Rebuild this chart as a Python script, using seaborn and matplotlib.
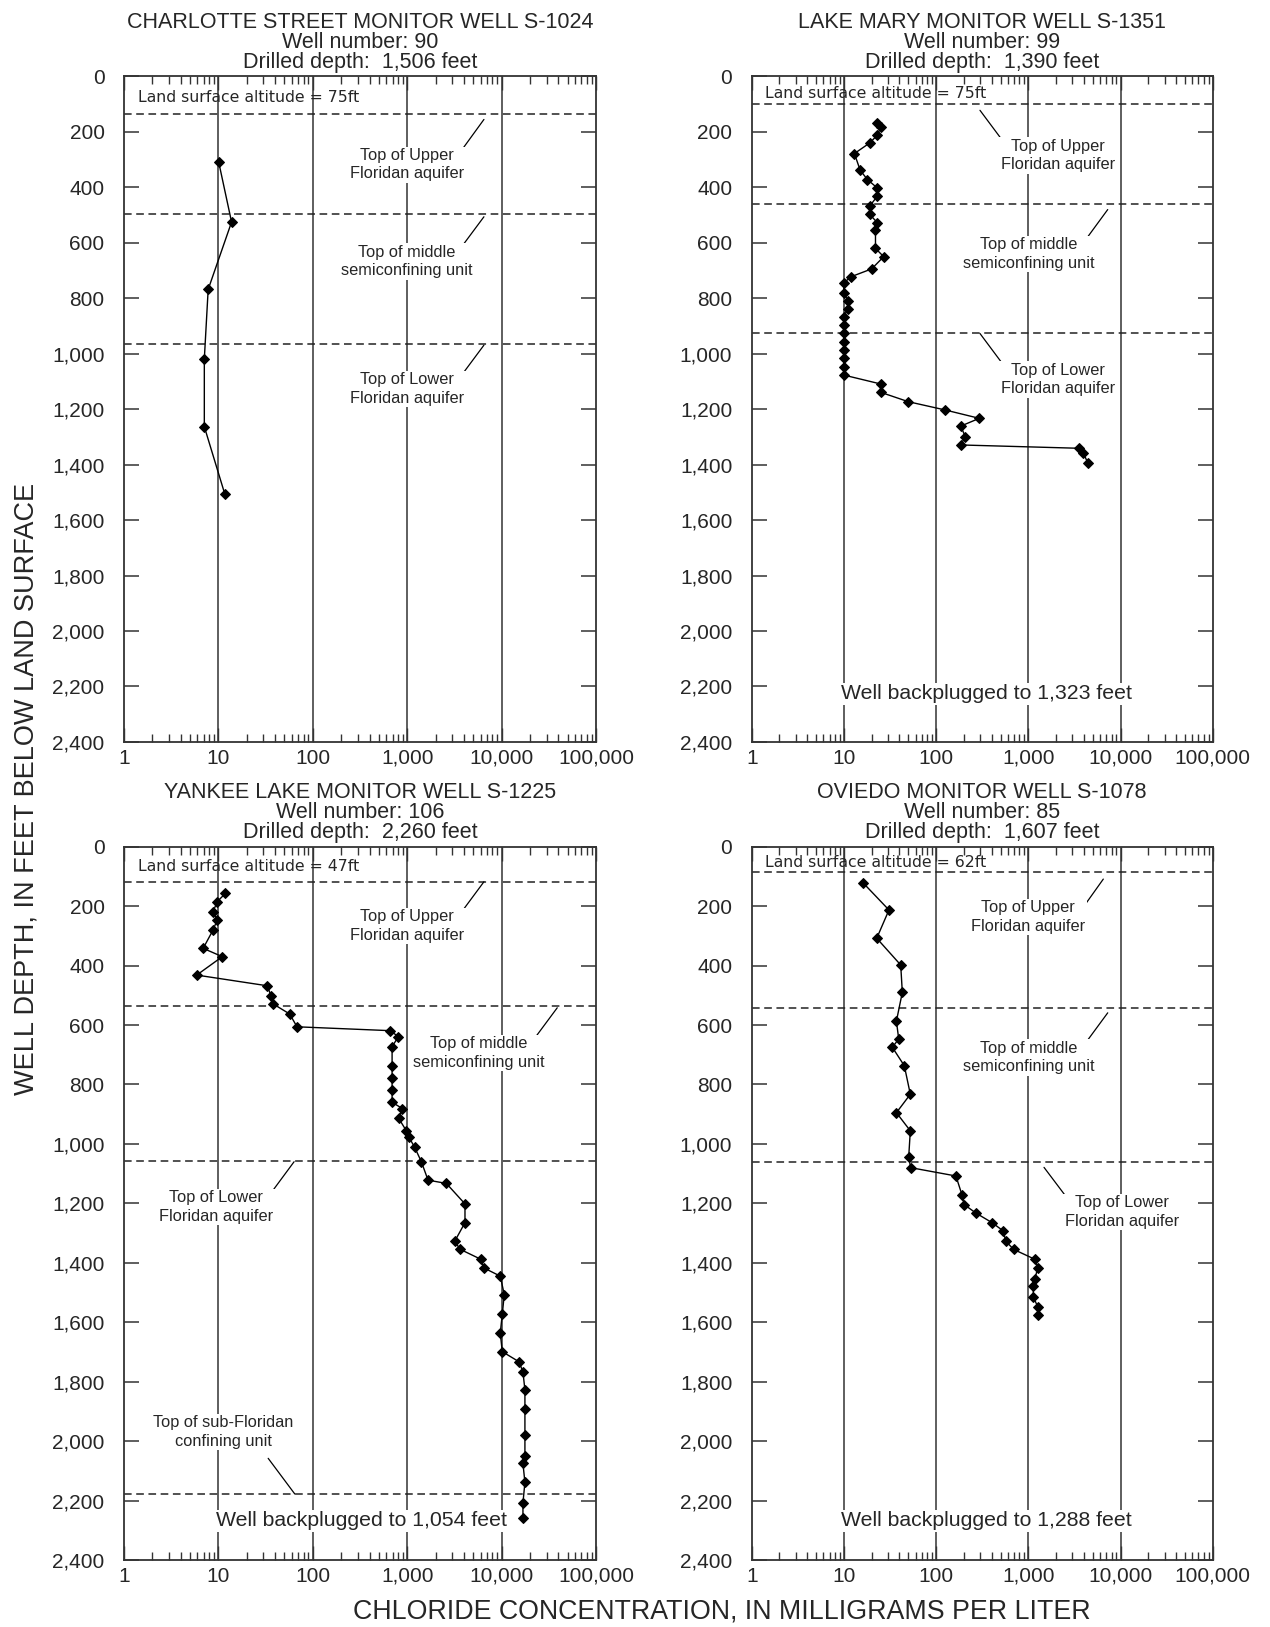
import numpy as np
import pandas as pd
import seaborn as sns
import matplotlib.pyplot as plt
from matplotlib.ticker import FixedLocator, NullFormatter

## Values (depth in feet, chloride in mg/L)
charlotte_depth = [310, 525, 768, 1019, 1263, 1506]
charlotte_cl = [10.1, 13.8, 7.8, 7.1, 7.1, 11.7]

lakemary_depth = [167, 184, 212, 240, 278, 338, 372, 402, 432, 468,
                  497, 527, 554, 620, 650, 694, 722, 744, 780, 809,
                  837, 867, 897, 927, 957, 987, 1017, 1047, 1077, 1109,
                  1139, 1173, 1203, 1233, 1261, 1299, 1329, 1341, 1357, 1393]
lakemary_cl = [23, 25, 23, 19, 13, 15, 18, 23, 23, 19,
               19, 23, 22, 22, 27, 20, 12, 10, 10, 11,
               11, 10, 10, 10, 10, 10, 10, 10, 10, 25,
               25, 50, 126, 294, 185, 207, 185, 3575, 3950, 4400]

yankee_depth = [157, 185, 219, 247, 280, 342, 370, 432, 468, 501,
                529, 563, 606, 619, 639, 673, 737, 777, 819, 860,
                881, 914, 956, 976, 1012, 1060, 1122, 1133, 1202, 1265,
                1328, 1355, 1389, 1417, 1445, 1507, 1574, 1636, 1699, 1733,
                1767, 1828, 1892, 1980, 2049, 2075, 2139, 2208, 2260]
yankee_cl = [11.9, 9.7, 8.8, 9.7, 8.8, 6.9, 11.0, 5.9, 33, 36,
             38, 57, 68, 658, 807, 692, 692, 692, 692, 692,
             889, 813, 980, 1038, 1202, 1413, 1663, 2600, 4094, 4094,
             3184, 3654, 6095, 6454, 9683, 10670, 10160, 9683, 10160, 15270,
             16830, 17660, 17660, 17660, 17660, 16830, 17660, 16830, 16830]

oviedo_depth = [123, 213, 308, 398, 490, 587, 647, 675, 737, 833,
                895, 956, 1045, 1080, 1108, 1172, 1204, 1233, 1265, 1293,
                1327, 1355, 1389, 1417, 1453, 1478, 1514, 1548, 1576]
oviedo_cl = [16.3, 30.8, 22.7, 41.3, 43, 37.1, 39.3, 33.5, 45.2, 52.5,
             37.1, 52.5, 50.4, 53, 164, 191, 201, 271, 404, 536,
             568, 693, 1191, 1263, 1183, 1133, 1133, 1263, 1263]

# tops of hydrogeologic units (dashed lines), feet
charlotte_tops = [137, 495, 964]
lakemary_tops = [101, 460, 924]
yankee_tops = [118, 535, 1058, 2178]
oviedo_tops = [84, 544, 1062]

titles = ["CHARLOTTE STREET MONITOR WELL S-1024\nWell number: 90\nDrilled depth:  1,506 feet",
          "LAKE MARY MONITOR WELL S-1351\nWell number: 99\nDrilled depth:  1,390 feet",
          "YANKEE LAKE MONITOR WELL S-1225\nWell number: 106\nDrilled depth:  2,260 feet",
          "OVIEDO MONITOR WELL S-1078\nWell number: 85\nDrilled depth:  1,607 feet"]
altitudes = ["75ft", "75ft", "47ft", "62ft"]

x_ticks = [1, 10, 100, 1000, 10000, 100000]
x_labels = ["1", "10", "100", "1,000", "10,000", "100,000"]
y_ticks = [0, 200, 400, 600, 800, 1000, 1200, 1400, 1600, 1800, 2000, 2200, 2400]
y_labels = ["0", "200", "400", "600", "800", "1,000", "1,200", "1,400",
            "1,600", "1,800", "2,000", "2,200", "2,400"]
minor_ticks = [m * d for d in [1, 10, 100, 1000, 10000] for m in [2, 3, 4, 5, 6, 7, 8, 9]]

sns.set_style("ticks")
plt.rcParams['font.family'] = ['Liberation Sans', 'DejaVu Sans']

fig = plt.figure(figsize=(12.7, 16.27), dpi=100)
positions = [[0.0976, 0.5440, 0.3717, 0.4090],
             [0.5919, 0.5440, 0.3630, 0.4090],
             [0.0976, 0.0412, 0.3717, 0.4384],
             [0.5919, 0.0412, 0.3630, 0.4384]]

wells = [(charlotte_depth, charlotte_cl, charlotte_tops),
         (lakemary_depth, lakemary_cl, lakemary_tops),
         (yankee_depth, yankee_cl, yankee_tops),
         (oviedo_depth, oviedo_cl, oviedo_tops)]

axes = []
for i, (depth, cl, tops) in enumerate(wells):
    ax = fig.add_axes(positions[i])
    axes.append(ax)
    df = pd.DataFrame({"depth": depth, "cl": cl})
    ax.set_xscale("log")
    for d in [10, 100, 1000, 10000]:
        ax.axvline(d, color="#333333", lw=1.1, zorder=1)
    for t in tops:
        ax.axhline(t, color="#222222", lw=1.1, ls=(0, (5, 3)), zorder=2)
    sns.lineplot(data=df, x="cl", y="depth", sort=False, estimator=None,
                 color="black", lw=1.0, marker="D", markersize=5,
                 markeredgecolor="black", ax=ax, zorder=5)
    ax.set_xlim(1, 100000)
    ax.set_ylim(2400, 0)
    ax.xaxis.set_major_locator(FixedLocator(x_ticks))
    ax.set_xticklabels(x_labels)
    ax.xaxis.set_minor_locator(FixedLocator(minor_ticks))
    ax.xaxis.set_minor_formatter(NullFormatter())
    ax.yaxis.set_major_locator(FixedLocator(y_ticks))
    ax.set_yticklabels(y_labels)
    ax.tick_params(axis="x", which="major", direction="in", length=10, width=1,
                   top=True, bottom=True, labelsize=15, pad=5, color="#333333")
    ax.tick_params(axis="x", which="minor", direction="in", length=6, width=1,
                   top=True, bottom=True, color="#333333")
    ax.tick_params(axis="y", which="major", direction="in", length=11, width=1.1,
                   left=True, right=True, labelsize=15, pad=14, color="#333333")
    ax.set_xlabel("")
    ax.set_ylabel("")
    for s in ax.spines.values():
        s.set_color("#333333")
        s.set_linewidth(1.3)
    ax.set_title(titles[i], fontsize=15.5, linespacing=0.95, pad=6)
    ax.text(1.4, [77, 62, 67, 53][i], "Land surface altitude = " + altitudes[i],
            family="DejaVu Sans", fontsize=11.3, ha="left", va="center", zorder=4)

box = dict(fc="white", ec="none", pad=1)
lab = dict(fontsize=11.8, ha="center", va="center", linespacing=1.3, bbox=box, zorder=4)
lead = dict(arrowstyle="-", lw=0.9, color="black", shrinkA=0, shrinkB=0)
plug = dict(fontsize=15.3, ha="center", va="center", bbox=box, zorder=4)

# Charlotte Street
ax = axes[0]
ax.text(1000, 318, "Top of Upper\nFloridan aquifer", **lab)
ax.text(1000, 667, "Top of middle\nsemiconfining unit", **lab)
ax.text(1000, 1127, "Top of Lower\nFloridan aquifer", **lab)
for y0, y1 in [(155, 284), (506, 632), (969, 1095)]:
    ax.annotate("", xy=(3450, y1), xytext=(6500, y0), arrowprops=lead)

# Lake Mary
ax = axes[1]
ax.text(2084, 285, "Top of Upper\nFloridan aquifer", **lab)
ax.text(1000, 640, "Top of middle\nsemiconfining unit", **lab)
ax.text(2084, 1093, "Top of Lower\nFloridan aquifer", **lab)
ax.annotate("", xy=(573, 248), xytext=(299, 122), arrowprops=lead)
ax.annotate("", xy=(3795, 608), xytext=(7265, 480), arrowprops=lead)
ax.annotate("", xy=(573, 1053), xytext=(299, 927), arrowprops=lead)
ax.text(350, 2226, "Well backplugged to 1,323 feet", **plug)

# Yankee Lake
ax = axes[2]
ax.text(1000, 267, "Top of Upper\nFloridan aquifer", **lab)
ax.text(5750, 694, "Top of middle\nsemiconfining unit", **lab)
ax.text(9.5, 1212, "Top of Lower\nFloridan aquifer", **lab)
ax.text(11.2, 1970, "Top of sub-Floridan\nconfining unit", **lab)
ax.annotate("", xy=(3450, 236), xytext=(6500, 118), arrowprops=lead)
ax.annotate("", xy=(20600, 660), xytext=(38850, 542), arrowprops=lead)
ax.annotate("", xy=(33.7, 1178), xytext=(63.4, 1060), arrowprops=lead)
ax.annotate("", xy=(64.5, 2178), xytext=(33.7, 2058), arrowprops=lead)
ax.text(330, 2268, "Well backplugged to 1,054 feet", **plug)

# Oviedo
ax = axes[3]
ax.text(1000, 237, "Top of Upper\nFloridan aquifer", **lab)
ax.text(1000, 709, "Top of middle\nsemiconfining unit", **lab)
ax.text(10300, 1229, "Top of Lower\nFloridan aquifer", **lab)
ax.annotate("", xy=(3485, 227), xytext=(6505, 109), arrowprops=lead)
ax.annotate("", xy=(3795, 678), xytext=(7265, 559), arrowprops=lead)
ax.annotate("", xy=(2833, 1195), xytext=(1480, 1079), arrowprops=lead)
ax.text(352, 2268, "Well backplugged to 1,288 feet", **plug)

fig.text(0.0205, 0.515, "WELL DEPTH, IN FEET BELOW LAND SURFACE", rotation=90,
         fontsize=19.5, ha="center", va="center")
fig.text(0.568, 0.0095, "CHLORIDE CONCENTRATION, IN MILLIGRAMS PER LITER",
         fontsize=19.3, ha="center", va="center")

fig.savefig("out.png", dpi=100)
